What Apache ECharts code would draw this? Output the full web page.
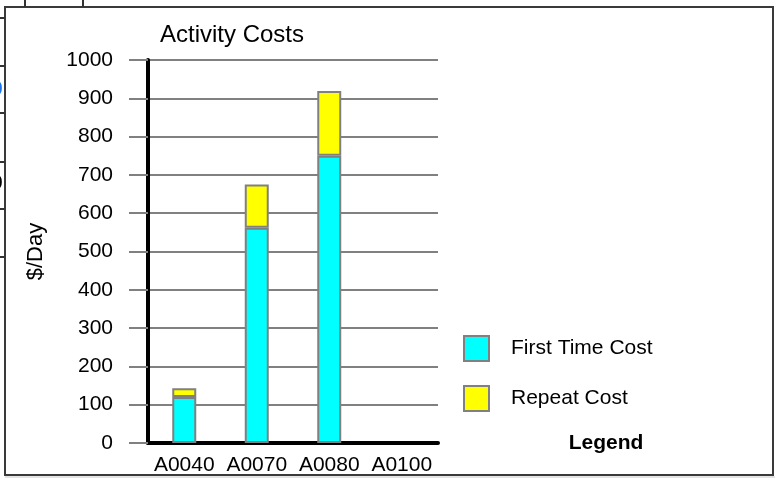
<!DOCTYPE html>
<html>
<head>
<meta charset="utf-8">
<script src="https://cdn.jsdelivr.net/npm/echarts@6/dist/echarts.min.js"></script>
<style>
  html, body { margin: 0; padding: 0; background: #fff; }
  #chart { width: 777px; height: 487px; }
</style>
</head>
<body>
<div id="chart"></div>
<script>
// activity codes along the x axis
const activities = ["A0040", "A0070", "A0080", "A0100"];
// $/Day values
const firstTimeCost = [120, 562, 750, "-"];
const repeatCost = [23, 113, 169, "-"];
const yTicks = [0, 100, 200, 300, 400, 500, 600, 700, 800, 900, 1000];

const FONT = "'Liberation Sans', Arial, sans-serif";
const chart = echarts.init(document.getElementById("chart"));

// little clipped leftovers on the left edge of the sheet
const edgeLines = [18, 66, 113, 162, 209, 257].map((y) => ({
  type: "line",
  shape: { x1: 0, y1: y, x2: 5, y2: y },
  style: { stroke: "#333", lineWidth: 2 },
}));

const option = {
  animation: false,
  backgroundColor: "#fff",
  grid: { left: 148, top: 60, width: 290, height: 383 },
  legend: {
    orient: "vertical",
    left: 463,
    top: 335,
    padding: 0,
    itemWidth: 25,
    itemHeight: 25,
    itemGap: 23,
    icon: "rect",
    selectedMode: false,
    textStyle: { fontFamily: FONT, fontSize: 21, color: "#000", padding: [0, 0, 0, 17] },
    data: ["First Time Cost", "Repeat Cost"],
  },
  xAxis: {
    type: "category",
    data: activities,
    axisLine: { lineStyle: { color: "#000", width: 4 } },
    axisTick: { show: false },
    axisLabel: { interval: 0, fontFamily: FONT, fontSize: 21, color: "#000", margin: 12 },
  },
  yAxis: {
    type: "value",
    min: yTicks[0],
    max: yTicks[yTicks.length - 1],
    interval: 100,
    name: "$/Day",
    nameLocation: "middle",
    nameRotate: 90,
    nameGap: 101,
    nameTextStyle: { fontFamily: FONT, fontSize: 22, color: "#000" },
    axisLine: { show: true, lineStyle: { color: "#000", width: 4 } },
    axisTick: { show: true, length: 19, lineStyle: { color: "#808080", width: 2 } },
    splitLine: { lineStyle: { color: "#808080", width: 2 } },
    axisLabel: {
      fontFamily: FONT,
      fontSize: 21,
      color: "#000",
      margin: 35,
      formatter: (v) => String(v),
    },
  },
  series: [
    {
      name: "First Time Cost",
      type: "bar",
      stack: "cost",
      barWidth: 24,
      itemStyle: { color: "#00ffff", borderColor: "#808080", borderWidth: 2 },
      data: firstTimeCost,
    },
    {
      name: "Repeat Cost",
      type: "bar",
      stack: "cost",
      barWidth: 24,
      itemStyle: { color: "#ffff00", borderColor: "#808080", borderWidth: 2 },
      data: repeatCost,
    },
  ],
  graphic: [
    {
      type: "rect",
      shape: { x: 5, y: 7, width: 768, height: 468 },
      style: { fill: "none", stroke: "#3a3a3a", lineWidth: 2 },
      z: 0,
    },
    {
      type: "line",
      shape: { x1: 5, y1: 477, x2: 775, y2: 477 },
      style: { stroke: "#c8c8c8", lineWidth: 1 },
    },
    {
      type: "line",
      shape: { x1: 25, y1: 0, x2: 25, y2: 7 },
      style: { stroke: "#333", lineWidth: 2 },
    },
    {
      type: "line",
      shape: { x1: 83, y1: 0, x2: 83, y2: 7 },
      style: { stroke: "#333", lineWidth: 2 },
    },
    {
      type: "text",
      x: 64,
      y: -3,
      style: { text: "y", fontFamily: FONT, fontSize: 21, fill: "#555", textAlign: "center", textVerticalAlign: "bottom" },
    },
    {
      type: "text",
      x: -9,
      y: 89,
      style: { text: "0", fontFamily: FONT, fontSize: 21, fill: "#1a73e8", textVerticalAlign: "middle" },
    },
    {
      type: "text",
      x: -9,
      y: 183,
      style: { text: "0", fontFamily: FONT, fontSize: 21, fill: "#000", textVerticalAlign: "middle" },
    },
    ...edgeLines,
    {
      type: "text",
      x: 232,
      y: 35,
      style: { text: "Activity Costs", fontFamily: FONT, fontSize: 24, fill: "#000", textAlign: "center", textVerticalAlign: "middle" },
    },
    {
      type: "text",
      x: 606,
      y: 443,
      style: { text: "Legend", fontFamily: FONT, fontSize: 21, fontWeight: "bold", fill: "#000", textAlign: "center", textVerticalAlign: "middle" },
    },
  ],
};

chart.setOption(option);
</script>
</body>
</html>
